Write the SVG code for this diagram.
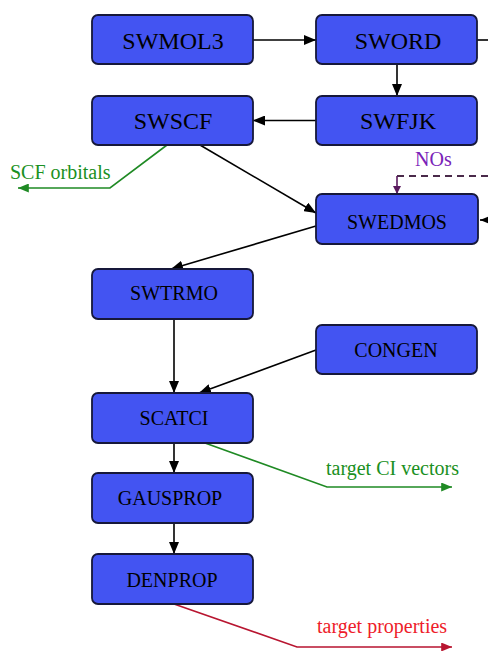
<svg xmlns="http://www.w3.org/2000/svg" width="488" height="651" viewBox="0 0 488 651">
  <defs>
    <marker id="ah" viewBox="0 0 12 10" refX="12" refY="5" markerWidth="12" markerHeight="10" markerUnits="userSpaceOnUse" orient="auto">
      <path d="M0,0 L12,5 L0,10 Z" fill="#000"/>
    </marker>
    <marker id="ah-green" viewBox="0 0 12 10" refX="12" refY="5" markerWidth="12" markerHeight="9" markerUnits="userSpaceOnUse" orient="auto">
      <path d="M0,0 L12,5 L0,10 Z" fill="#1f8a24"/>
    </marker>
    <marker id="ah-red" viewBox="0 0 12 10" refX="12" refY="5" markerWidth="12" markerHeight="9" markerUnits="userSpaceOnUse" orient="auto">
      <path d="M0,0 L12,5 L0,10 Z" fill="#b81530"/>
    </marker>
    <marker id="ah-purple" viewBox="0 0 10 10" refX="10" refY="5" markerWidth="8" markerHeight="8" markerUnits="userSpaceOnUse" orient="auto">
      <path d="M0,0 L10,5 L0,10 Z" fill="#5a1a5e"/>
    </marker>
  </defs>
  <style>
    .node rect { fill: #4354f2; stroke: #16183a; stroke-width: 1.8; }
    .node text { font-family: "Liberation Serif", "Times New Roman", serif; fill: #000; text-anchor: middle; }
    .big text { font-size: 24px; }
    .small text { font-size: 20px; }
    .edge { fill: none; stroke: #000; stroke-width: 1.6; marker-end: url(#ah); }
    .green { fill: none; stroke: #1f8a24; stroke-width: 1.6; marker-end: url(#ah-green); }
    .red { fill: none; stroke: #b81530; stroke-width: 1.6; marker-end: url(#ah-red); }
    .dash { fill: none; stroke: #4a2a4a; stroke-width: 2; stroke-dasharray: 7 5; }
    .lbl { font-family: "Liberation Serif", "Times New Roman", serif; font-size: 20px; }
  </style>

  <!-- connectors -->
  <g id="connectors">
    <line class="edge" x1="253" y1="40" x2="316" y2="40"/>
    <line x1="477" y1="40" x2="488" y2="40" stroke="#000" stroke-width="1.6"/>
    <line class="edge" x1="397" y1="64" x2="397" y2="96"/>
    <line class="edge" x1="316" y1="120.5" x2="253" y2="120.5"/>
    <line class="edge" x1="200" y1="145" x2="316" y2="213"/>
    <polyline class="green" points="167,145 110,188 18,188"/>
    <line class="dash" x1="397" y1="176" x2="488" y2="176"/>
    <line x1="397" y1="176" x2="397" y2="194" stroke="#5a1a5e" stroke-width="1.6" marker-end="url(#ah-purple)"/>
    <line class="edge" x1="492" y1="220" x2="480" y2="220"/>
    <line class="edge" x1="316" y1="226" x2="171" y2="269"/>
    <line class="edge" x1="174" y1="319" x2="174" y2="393"/>
    <line class="edge" x1="316" y1="350" x2="199" y2="393"/>
    <line class="edge" x1="174" y1="443" x2="174" y2="473"/>
    <line class="edge" x1="174" y1="523" x2="174" y2="554"/>
    <polyline class="green" points="205,443 327,487 452,487"/>
    <polyline class="red" points="174,604 297,647 452,647"/>
  </g>

  <!-- edge labels -->
  <text class="lbl" x="10" y="179" fill="#1a9022">SCF orbitals</text>
  <text class="lbl" x="415" y="166" fill="#7a22b8">NOs</text>
  <text class="lbl" x="326" y="475" fill="#1a9022">target CI vectors</text>
  <text class="lbl" x="317" y="633" fill="#ee1c2a">target properties</text>

  <!-- nodes -->
  <g id="swmol3" class="node big">
    <rect x="92" y="15" width="161" height="49" rx="6"/>
    <text x="173" y="49">SWMOL3</text>
  </g>
  <g id="sword" class="node big">
    <rect x="316" y="15" width="161" height="49" rx="6"/>
    <text x="398" y="49">SWORD</text>
  </g>
  <g id="swscf" class="node big">
    <rect x="92" y="96" width="161" height="49" rx="6"/>
    <text x="173" y="129">SWSCF</text>
  </g>
  <g id="swfjk" class="node big">
    <rect x="316" y="96" width="161" height="49" rx="6"/>
    <text x="398" y="129">SWFJK</text>
  </g>
  <g id="swedmos" class="node small">
    <rect x="316" y="194" width="162" height="50" rx="6"/>
    <text x="397" y="229">SWEDMOS</text>
  </g>
  <g id="swtrmo" class="node small">
    <rect x="92" y="269" width="161" height="50" rx="6"/>
    <text x="174" y="300">SWTRMO</text>
  </g>
  <g id="congen" class="node small">
    <rect x="316" y="325" width="161" height="49" rx="6"/>
    <text x="396" y="357">CONGEN</text>
  </g>
  <g id="scatci" class="node small">
    <rect x="92" y="393" width="161" height="50" rx="6"/>
    <text x="174" y="425">SCATCI</text>
  </g>
  <g id="gausprop" class="node small">
    <rect x="92" y="473" width="161" height="50" rx="6"/>
    <text x="170" y="505">GAUSPROP</text>
  </g>
  <g id="denprop" class="node small">
    <rect x="92" y="554" width="161" height="50" rx="6"/>
    <text x="172" y="587">DENPROP</text>
  </g>
</svg>
